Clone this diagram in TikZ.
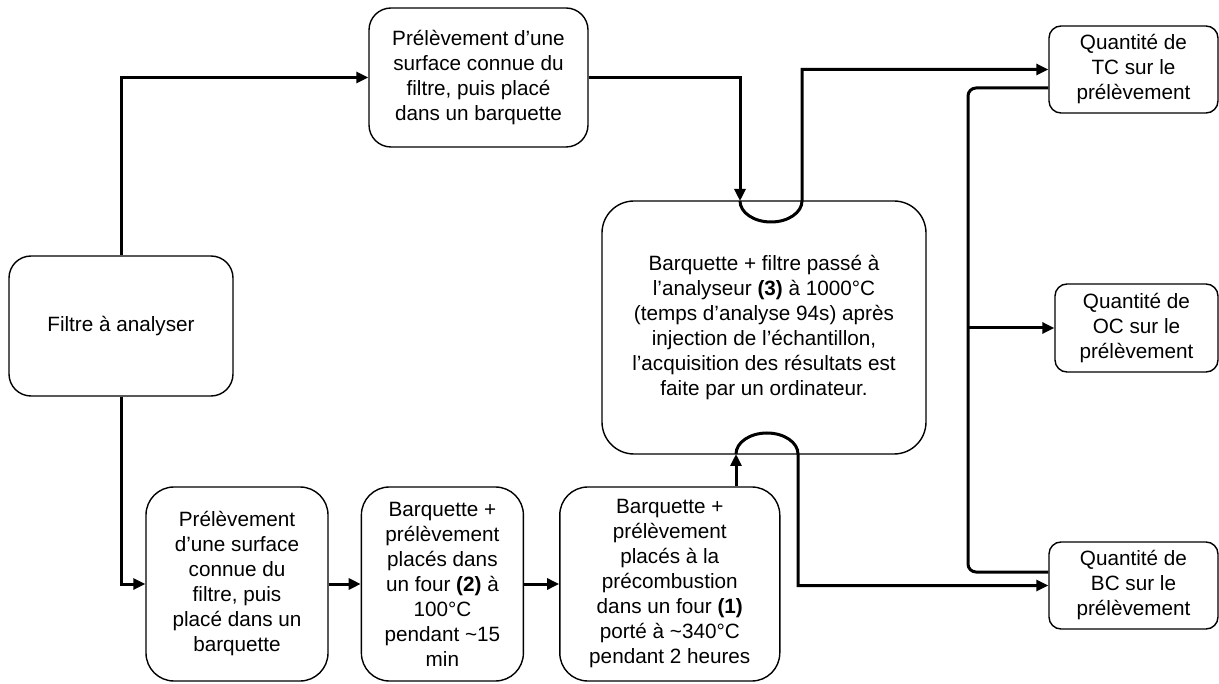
\documentclass[tikz,border=0pt]{standalone}
\usepackage{fontspec}
\setmainfont{Liberation Sans}
\usetikzlibrary{positioning,arrows.meta}

\tikzset{
	box/.style={draw, line width=1.4pt, rounded corners=22pt, align=center, inner sep=2pt, font=\fontsize{20.7}{25}\selectfont},
	res/.style={box, rounded corners=12pt, minimum width=169pt, minimum height=87pt},
	link/.style={line width=3pt, -{Triangle[length=12pt,width=11pt]}},
	plain/.style={line width=3pt},
}

\begin{document}
\begin{tikzpicture}[x=1pt,y=1pt]
	\useasboundingbox (0,0) rectangle (1219,-684);

	\node[box, minimum width=224pt, minimum height=140pt] (filtre) at (121,-326) {Filtre à analyser};
	\node[box, minimum width=219pt, minimum height=139pt] (prelA) at (478.5,-77.5) {Prélèvement d’une\\surface connue du\\filtre, puis placé\\dans un barquette};
	\node[box, minimum width=182pt, minimum height=194pt, rounded corners=28pt] (prelB) at (237,-584) {Prélèvement\\d’une surface\\connue du\\filtre, puis\\placé dans un\\barquette};
	\node[box, minimum width=162pt, minimum height=194pt, rounded corners=28pt, right=32pt of prelB] (four2) {Barquette +\\prélèvement\\placés dans\\un four \textbf{(2)} à\\100°C\\pendant \textasciitilde15\\min};
	\node[box, minimum width=220pt, minimum height=194pt, rounded corners=28pt, right=35pt of four2] (four1) {Barquette +\\prélèvement\\placés à la\\précombustion\\dans un four \textbf{(1)}\\porté à \textasciitilde340°C\\pendant 2 heures};
	\node[box, minimum width=324pt, minimum height=253pt, rounded corners=32pt] (analyse) at (764,-327.5) {Barquette + filtre passé à\\l’analyseur \textbf{(3)} à 1000°C\\(temps d’analyse 94s) après\\injection de l’échantillon,\\l’acquisition des résultats est\\faite par un ordinateur.};

	\node[res] (tc) at (1133.5,-69.5) {Quantité de\\TC sur le\\prélèvement};
	\node[res, minimum width=163pt, minimum height=88pt] (oc) at (1136.5,-328) {Quantité de\\OC sur le\\prélèvement};
	\node[res] (bc) at (1133.5,-585.5) {Quantité de\\BC sur le\\prélèvement};

	\coordinate (inTop) at (740,-201);
	\coordinate (inBot) at (736,-454);
	\coordinate (trunk) at (968,-330);

	\draw[link] (filtre.north) |- (prelA.west);
	\draw[link] (filtre.south) |- (prelB.west);
	\draw[link] (prelB) -- (four2);
	\draw[link] (four2) -- (four1);

	\draw[link] (prelA.east) -| (inTop);
	\draw[link] (inTop) arc[start angle=180, end angle=360, x radius=31, y radius=21] |- (tc.west);
	\draw[link] (four1.north -| inBot) -- (inBot);
	\draw[link] (inBot) arc[start angle=180, end angle=0, x radius=31, y radius=21] |- (bc.west);

	\draw[plain, rounded corners=8pt] ([yshift=-18.5pt]tc.west) -| ([yshift=13.5pt]bc.west -| trunk) -- ([yshift=13.5pt]bc.west);
	\draw[link] (oc.west -| trunk) -- (oc.west);
\end{tikzpicture}
\end{document}
